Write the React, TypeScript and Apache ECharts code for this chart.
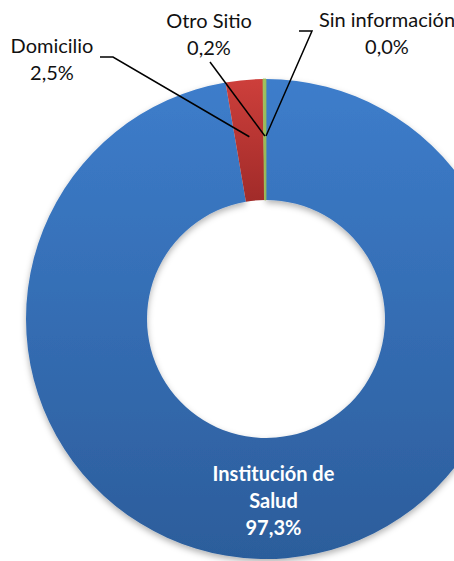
import React, { useEffect, useRef } from "react";
import * as echarts from "echarts";

const categories = ["Institución de\nSalud", "Domicilio", "Otro Sitio", "Sin información"];
const values = [97.3, 2.5, 0.2, 0.0];

const gradients = [
  ["#3d7dcb", "#2c5d9b"],
  ["#cd3f3b", "#a12b29"],
  ["#9fc25e", "#93b452"],
  ["#8064a2", "#6a4f8c"],
];

const CX = 266;
const CY = 319;
const R0 = 119;
const R1 = 240;
const RA = 183;

// label anchor positions and leader-line starts (layout only)
const labelPos: Record<number, { x: number; y: number; line: number[][] }> = {
  1: { x: 52, y: 58, line: [[100, 57], [113, 57]] },
  2: { x: 209, y: 33, line: [[210, 62]] },
  3: { x: 387, y: 32, line: [[299, 31], [312, 31]] },
};

const fmt = (v: number) => v.toFixed(1).replace(".", ",") + "%";

export default function App() {
  const ref = useRef<HTMLDivElement>(null);
  useEffect(() => {
    if (!ref.current) return;
    const chart = echarts.init(ref.current, null, { renderer: "svg" });
    const total = values.reduce((a, b) => a + b, 0);
    const mids: number[] = [];
    let acc = 0;
    values.forEach((v) => {
      mids.push(((acc + v / 2) / total) * 2 * Math.PI);
      acc += v;
    });
    const common = {
      type: "pie",
      center: [CX, CY],
      radius: [R0, R1],
      startAngle: 90,
      clockwise: true,
      avoidLabelOverlap: false,
      minShowLabelAngle: 0,
    };
    chart.setOption({
      animation: false,
      series: [
        {
          ...common,
          z: 2,
          silent: true,
          label: { show: false },
          labelLine: { show: false },
          data: values.map((v, i) => ({
            value: v,
            name: categories[i],
            itemStyle: {
              color: new echarts.graphic.LinearGradient(0, 0, 0, 1, [
                { offset: 0, color: gradients[i][0] },
                { offset: 1, color: gradients[i][1] },
              ]),
              ...(i === 0
                ? { shadowColor: "rgba(0,0,0,0.3)", shadowBlur: 6, shadowOffsetY: 3 }
                : {}),
              ...(i === 2 ? { borderColor: "#9bbb59", borderWidth: 0.8 } : {}),
            },
          })),
        },
        {
          ...common,
          z: 5,
          label: {
            show: true,
            position: "outside",
            fontFamily: "Lato",
            fontSize: 20,
            lineHeight: 27,
            color: "#111",
            align: "center",
            formatter: (p: any) => categories[p.dataIndex] + "\n" + fmt(values[p.dataIndex]),
          },
          labelLine: {
            show: true,
            lineStyle: { color: "#000", width: 1.5 },
          },
          labelLayout: (params: any) => {
            const i = params.dataIndex;
            if (i === 0) return { dx: -8, dy: -1 };
            const pos = labelPos[i];
            const a = mids[i];
            const end = [CX + RA * Math.sin(a), CY - RA * Math.cos(a)];
            return {
              x: pos.x,
              y: pos.y,
              align: "center",
              verticalAlign: "middle",
              labelLinePoints: [...pos.line, end],
            };
          },
          itemStyle: { color: "rgba(0,0,0,0)" },
          data: values.map((v, i) => ({
            value: v,
            name: categories[i],
            ...(i === 0
              ? {
                  label: {
                    position: "inside",
                    color: "#fff",
                    fontWeight: "bold",
                  },
                  labelLine: { show: false },
                }
              : {}),
          })),
        },
      ],
    });
    return () => chart.dispose();
  }, []);
  return (
    <div
      ref={ref}
      style={{ position: "fixed", left: 0, top: 0, width: 454, height: 561, background: "#fff" }}
    />
  );
}
